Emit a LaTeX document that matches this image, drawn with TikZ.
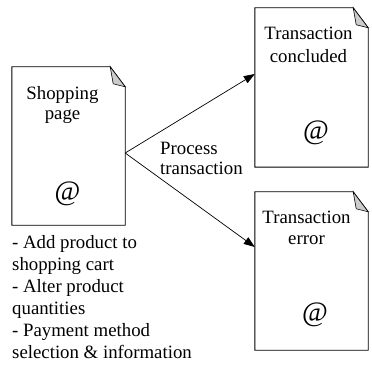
\documentclass[tikz,border=0pt]{standalone}
\usepackage{fontspec}
\setmainfont{Liberation Serif}
\usetikzlibrary{arrows.meta}
\tikzset{
  docbox/.style={draw=none,inner sep=0pt,minimum width=#1},
  docline/.style={draw=black,line width=0.9pt},
  foldfill/.style={draw=black,line width=0.6pt,fill=black!20},
  lbl/.style={inner sep=0pt,anchor=base,font=\fontsize{18.8}{21}\selectfont},
  lblw/.style={lbl,anchor=base west},
  atsign/.style={inner sep=0pt,font=\fontsize{28}{30}\selectfont},
  conn/.style={draw=black,line width=0.7pt,-{Triangle[length=11pt,width=8pt]}},
}
\newcommand{\docoutline}[3]{% name, foldx, foldy
  \draw[docline] (#1.south west) -- (#1.north west) -- ([xshift=-#2]#1.north east)
     -- ([yshift=-#3]#1.north east) -- (#1.south east) -- cycle;
  \draw[foldfill] ([xshift=-#2]#1.north east) -- ([yshift=-#3]#1.north east)
     -- ([xshift=-#2+3pt,yshift=-#3+3pt]#1.north east) -- cycle;
}
\begin{document}
\begin{tikzpicture}[x=1pt,y=-1pt]
\useasboundingbox (0,0) rectangle (372,366);
% documents
\node[docbox=113pt,minimum height=158pt] (shop) at (68.5,146) {};
\node[docbox=113pt,minimum height=159pt] (conc) at (311.5,87.5) {};
\node[docbox=113pt,minimum height=158pt] (err) at (311.5,271) {};
\docoutline{shop}{15pt}{20pt}
\docoutline{conc}{15pt}{20pt}
\docoutline{err}{15pt}{20pt}
% texts
\node[lbl] (shop1) at (62.5,100) {Shopping};
\node[lbl] (shop2) at (62.5,120) {page};
\node[lbl] (conc1) at (308.5,40) {Transaction};
\node[lbl] (conc2) at (308.5,63) {concluded};
\node[lbl] (err1) at (306.5,223) {Transaction};
\node[lbl] (err2) at (306.5,244) {error};
\node[atsign] (shopat) at (67.5,194) {@};
\node[atsign] (concat) at (316,133) {@};
\node[atsign] (errat) at (315,315) {@};
% connectors
\draw[conn] ([yshift=-7pt]shop.east) -- ([yshift=13.5pt]conc.west);
\draw[conn] ([yshift=-7pt]shop.east) -- ([yshift=24pt]err.west);
\node[lblw] (proc1) at (160,155) {Process};
\node[lblw] (proc2) at (160,175) {transaction};
% list
\node[lblw] (l1) at (12,248) {- Add product to};
\node[lblw] (l2) at (12,270) {shopping cart};
\node[lblw] (l3) at (12,292) {- Alter product};
\node[lblw] (l4) at (12,314) {quantities};
\node[lblw] (l5) at (12,336) {- Payment method};
\node[lblw] (l6) at (12,358) {selection \& information};
\end{tikzpicture}
\end{document}
